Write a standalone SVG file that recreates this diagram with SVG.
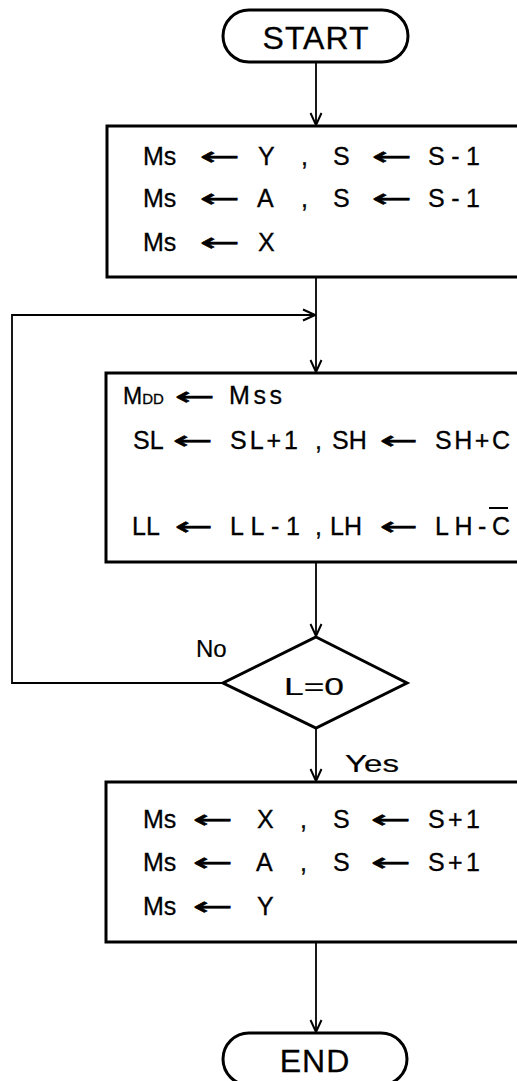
<svg xmlns="http://www.w3.org/2000/svg" width="517" height="1081" viewBox="0 0 517 1081">
<style>
  .box { fill: #fff; stroke: #000; stroke-width: 3; }
  .term { fill: #fff; stroke: #000; stroke-width: 3; }
  .conn { fill: none; stroke: #000; stroke-width: 1.8; }
  .t { font-family: "Liberation Sans", "DejaVu Sans", sans-serif; font-size: 25px; fill: #000; stroke: #000; stroke-width: 0.3px; }
  .arw { font-family: "DejaVu Sans", sans-serif; font-size: 25px; fill: #000; stroke: #000; stroke-width: 0.6px; }
  .big { font-family: "Liberation Sans", "DejaVu Sans", sans-serif; font-size: 32px; fill: #000; letter-spacing: 1px; stroke: #000; stroke-width: 0.3px; }
  .lbl { font-family: "Liberation Sans", "DejaVu Sans", sans-serif; font-size: 24px; fill: #000; stroke: #000; stroke-width: 0.2px; }
</style>
<defs>
  <marker id="arr" markerWidth="14" markerHeight="14" refX="13" refY="7" orient="auto" markerUnits="userSpaceOnUse">
    <path d="M1,1.5 L13,7 L1,12.5" fill="none" stroke="#000" stroke-width="2"/>
  </marker>
</defs>
<rect width="517" height="1081" fill="#fff"/>

<g id="connectors">
  <line class="conn" x1="316" y1="62" x2="316" y2="125" marker-end="url(#arr)"/>
  <line class="conn" x1="316" y1="277" x2="316" y2="372" marker-end="url(#arr)"/>
  <polyline class="conn" points="223,683 12,683 12,315 315,315" marker-end="url(#arr)"/>
  <line class="conn" x1="316" y1="562" x2="316" y2="636" marker-end="url(#arr)"/>
  <line class="conn" x1="316" y1="728" x2="316" y2="781" marker-end="url(#arr)"/>
  <line class="conn" x1="316" y1="942" x2="316" y2="1032" marker-end="url(#arr)"/>
  <text class="lbl" x="196" y="657">No</text>
  <text class="lbl" x="345" y="772" textLength="54" lengthAdjust="spacingAndGlyphs">Yes</text>
</g>

<g id="start">
  <rect class="term" x="223" y="10" width="185" height="52" rx="26" ry="26"/>
  <text class="big" x="316" y="49" text-anchor="middle">START</text>
</g>

<g id="push">
  <rect class="box" x="107" y="126" width="430" height="151"/>
  <text class="t" y="165"><tspan x="143">Ms</tspan><tspan x="258">Y</tspan><tspan x="301">,</tspan><tspan x="333">S</tspan><tspan x="428" textLength="52" lengthAdjust="spacing">S-1</tspan></text>
  <text class="arw" x="200" y="165" textLength="40" lengthAdjust="spacingAndGlyphs">←</text>
  <text class="arw" x="372" y="165" textLength="40" lengthAdjust="spacingAndGlyphs">←</text>
  <text class="t" y="207"><tspan x="143">Ms</tspan><tspan x="257">A</tspan><tspan x="301">,</tspan><tspan x="333">S</tspan><tspan x="428" textLength="52" lengthAdjust="spacing">S-1</tspan></text>
  <text class="arw" x="200" y="207" textLength="40" lengthAdjust="spacingAndGlyphs">←</text>
  <text class="arw" x="372" y="207" textLength="40" lengthAdjust="spacingAndGlyphs">←</text>
  <text class="t" y="251"><tspan x="143">Ms</tspan><tspan x="258">X</tspan></text>
  <text class="arw" x="200" y="251" textLength="40" lengthAdjust="spacingAndGlyphs">←</text>
</g>

<g id="move">
  <rect class="box" x="106" y="373" width="431" height="189"/>
  <text class="t" y="404"><tspan x="123" font-size="23">M</tspan><tspan font-size="15">DD</tspan><tspan x="229" textLength="53" lengthAdjust="spacing">Mss</tspan></text>
  <text class="arw" x="175" y="405" textLength="40" lengthAdjust="spacingAndGlyphs">←</text>
  <text class="t" y="449"><tspan x="133">SL</tspan><tspan x="230" textLength="68" lengthAdjust="spacing">SL+1</tspan><tspan x="315">,</tspan><tspan x="332">SH</tspan><tspan x="435" textLength="75" lengthAdjust="spacing">SH+C</tspan></text>
  <text class="arw" x="173" y="449" textLength="40" lengthAdjust="spacingAndGlyphs">←</text>
  <text class="arw" x="380" y="449" textLength="38" lengthAdjust="spacingAndGlyphs">←</text>
  <text class="t" y="535"><tspan x="132">LL</tspan><tspan x="230" textLength="70" lengthAdjust="spacing">LL-1</tspan><tspan x="315">,</tspan><tspan x="330">LH</tspan><tspan x="435" textLength="75" lengthAdjust="spacing">LH-C</tspan></text>
  <text class="arw" x="175" y="535" textLength="38" lengthAdjust="spacingAndGlyphs">←</text>
  <text class="arw" x="380" y="535" textLength="38" lengthAdjust="spacingAndGlyphs">←</text>
  <line x1="489" y1="508" x2="508" y2="508" stroke="#000" stroke-width="2"/>
</g>

<g id="decision">
  <polygon points="316,637 407,683 316,728 223,683" fill="#fff" stroke="#000" stroke-width="3" stroke-linejoin="miter"/>
  <text class="lbl" x="284" y="695" textLength="60" lengthAdjust="spacingAndGlyphs">L=0</text>
</g>

<g id="pop">
  <rect class="box" x="106" y="782" width="431" height="160"/>
  <text class="t" y="828"><tspan x="143">Ms</tspan><tspan x="257">X</tspan><tspan x="300">,</tspan><tspan x="333">S</tspan><tspan x="428" textLength="52" lengthAdjust="spacing">S+1</tspan></text>
  <text class="arw" x="193" y="828" textLength="40" lengthAdjust="spacingAndGlyphs">←</text>
  <text class="arw" x="371" y="828" textLength="40" lengthAdjust="spacingAndGlyphs">←</text>
  <text class="t" y="871"><tspan x="143">Ms</tspan><tspan x="256">A</tspan><tspan x="300">,</tspan><tspan x="333">S</tspan><tspan x="428" textLength="52" lengthAdjust="spacing">S+1</tspan></text>
  <text class="arw" x="193" y="871" textLength="40" lengthAdjust="spacingAndGlyphs">←</text>
  <text class="arw" x="371" y="871" textLength="40" lengthAdjust="spacingAndGlyphs">←</text>
  <text class="t" y="915"><tspan x="143">Ms</tspan><tspan x="257">Y</tspan></text>
  <text class="arw" x="193" y="915" textLength="40" lengthAdjust="spacingAndGlyphs">←</text>
</g>

<g id="end">
  <rect class="term" x="223" y="1033" width="184" height="52" rx="26" ry="26"/>
  <text class="big" x="315" y="1072" text-anchor="middle">END</text>
</g>
</svg>
